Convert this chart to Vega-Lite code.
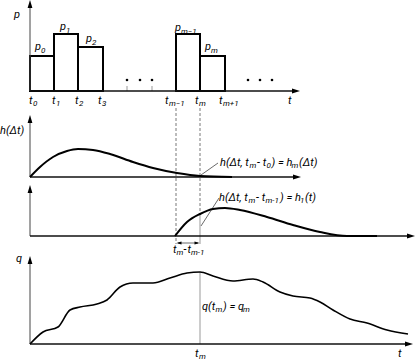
{
 "$schema": "https://vega.github.io/schema/vega-lite/v6.json",
 "width": 416, "height": 362, "padding": 0,
 "autosize": {"type": "fit", "contains": "padding"},
 "background": "white",
 "config": {"view": {"stroke": null}, "text": {"font": "Roboto", "fontStyle": "italic", "color": "black"}},
 "encoding": {
  "x": {"field": "x", "type": "quantitative", "scale": {"domain": [0, 416], "nice": false, "zero": false}, "axis": null},
  "y": {"field": "y", "type": "quantitative", "scale": {"domain": [0, 362], "reverse": true, "nice": false, "zero": false}, "axis": null}
 },
 "layer": [
  {"data": {"values": [{"x":176,"y":108,"x2":176,"y2":244},{"x":200,"y":108,"x2":200,"y2":215}]},
   "mark": {"type": "rule", "color": "#555", "strokeWidth": 0.8, "strokeDash": [3, 2]},
   "encoding": {"x2": {"field": "x2"}, "y2": {"field": "y2"}}},
  {"data": {"values": [{"x":200,"y":215,"x2":200,"y2":244},{"x":200,"y":272,"x2":200,"y2":344},{"x":127,"y":86,"x2":127,"y2":91},{"x":152,"y":86,"x2":152,"y2":91}]},
   "mark": {"type": "rule", "color": "#999", "strokeWidth": 1},
   "encoding": {"x2": {"field": "x2"}, "y2": {"field": "y2"}}},
  {"data": {"values": [{"x":201,"y":175,"x2":218,"y2":163},{"x":201,"y":226,"x2":219,"y2":198},{"x":178,"y":243,"x2":198,"y2":243}]},
   "mark": {"type": "rule", "color": "#444", "strokeWidth": 0.8},
   "encoding": {"x2": {"field": "x2"}, "y2": {"field": "y2"}}},
  {"data": {"values": [{"x":30,"x2":54,"y":56,"y2":91},{"x":54,"x2":78,"y":34,"y2":91},{"x":78,"x2":103,"y":47,"y2":91},{"x":176,"x2":200,"y":34,"y2":91},{"x":200,"x2":225,"y":56,"y2":91}]},
   "mark": {"type": "rect", "fill": "white", "stroke": "black", "strokeWidth": 2},
   "encoding": {"x2": {"field": "x2"}, "y2": {"field": "y2"}}},
  {"data": {"values": [{"x":30,"y":7,"x2":30,"y2":91},{"x":30,"y":122,"x2":30,"y2":177},{"x":30,"y":192,"x2":30,"y2":236},{"x":30,"y":263,"x2":30,"y2":344}]},
   "mark": {"type": "rule", "color": "#444", "strokeWidth": 1},
   "encoding": {"x2": {"field": "x2"}, "y2": {"field": "y2"}}},
  {"data": {"values": [{"x":30,"y":91,"x2":294,"y2":91},{"x":30,"y":177,"x2":295,"y2":177},{"x":30,"y":236,"x2":409,"y2":236},{"x":30,"y":344,"x2":407,"y2":344}]},
   "mark": {"type": "rule", "color": "#111", "strokeWidth": 1.4},
   "encoding": {"x2": {"field": "x2"}, "y2": {"field": "y2"}}},
  {"data": {"values": [
    {"s":"hm","x":30,"y":177},{"s":"hm","x":40,"y":167},{"s":"hm","x":53,"y":157},{"s":"hm","x":67,"y":151},{"s":"hm","x":78,"y":149},{"s":"hm","x":93,"y":150},{"s":"hm","x":110,"y":154},{"s":"hm","x":133,"y":162},{"s":"hm","x":153,"y":168},{"s":"hm","x":177,"y":173},{"s":"hm","x":200,"y":176},{"s":"hm","x":232,"y":177},
    {"s":"h1","x":175,"y":236},{"s":"h1","x":187,"y":222},{"s":"h1","x":200,"y":214},{"s":"h1","x":213,"y":209},{"s":"h1","x":225,"y":208},{"s":"h1","x":240,"y":210},{"s":"h1","x":267,"y":217},{"s":"h1","x":293,"y":225},{"s":"h1","x":320,"y":232},{"s":"h1","x":347,"y":236},{"s":"h1","x":377,"y":236}
   ]},
   "mark": {"type": "line", "color": "black", "strokeWidth": 2, "interpolate": "monotone"},
   "encoding": {"detail": {"field": "s"}}},
  {"data": {"values": [
    {"x":30,"y":344},{"x":43,"y":332},{"x":58,"y":327},{"x":70,"y":310},{"x":80,"y":307},{"x":97,"y":304},{"x":107,"y":300},{"x":120,"y":287},{"x":133,"y":283},{"x":153,"y":283},{"x":170,"y":278},{"x":187,"y":273},{"x":200,"y":272},{"x":213,"y":276},{"x":233,"y":281},{"x":253,"y":279},{"x":263,"y":282},{"x":280,"y":292},{"x":293,"y":296},{"x":310,"y":298},{"x":320,"y":302},{"x":333,"y":310},{"x":350,"y":319},{"x":367,"y":323},{"x":387,"y":330},{"x":408,"y":334}
   ]},
   "mark": {"type": "line", "color": "black", "strokeWidth": 1.6, "interpolate": "monotone"}},
  {"data": {"values": [{"x":127,"y":80},{"x":140,"y":80},{"x":152,"y":80},{"x":248,"y":80},{"x":260,"y":80},{"x":272,"y":80}]},
   "mark": {"type": "point", "filled": true, "color": "black", "size": 7, "opacity": 1}},
  {"data": {"values": [{"x":30,"y":4},{"x":30,"y":119},{"x":30,"y":189},{"x":30,"y":260}]},
   "mark": {"type": "point", "filled": true, "color": "black", "opacity": 1, "size": 64, "shape": "M0,-1L0.6,1L-0.6,1Z"}},
  {"data": {"values": [{"x":296,"y":91},{"x":297,"y":177},{"x":411,"y":236},{"x":409,"y":344}]},
   "mark": {"type": "point", "filled": true, "color": "black", "opacity": 1, "size": 64, "shape": "M1,0L-1,0.6L-1,-0.6Z"}},
  {"data": {"values": [{"x":197,"y":243}]},
   "mark": {"type": "point", "filled": true, "color": "black", "opacity": 1, "size": 25, "shape": "M1,0L-1,0.6L-1,-0.6Z"}},
  {"data": {"values": [{"x":179,"y":243}]},
   "mark": {"type": "point", "filled": true, "color": "black", "opacity": 1, "size": 25, "shape": "M-1,0L1,0.6L1,-0.6Z"}},
  {"data": {"values": [
    {"x":14,"y":18,"label":"p"},
    {"x":35,"y":50,"label":"p"},{"x":60,"y":30,"label":"p"},{"x":86,"y":42,"label":"p"},{"x":175,"y":31,"label":"p"},{"x":205,"y":50,"label":"p"},
    {"x":29,"y":104,"label":"t"},{"x":52,"y":104,"label":"t"},{"x":75,"y":104,"label":"t"},{"x":98,"y":104,"label":"t"},{"x":165,"y":104,"label":"t"},{"x":195,"y":104,"label":"t"},{"x":219,"y":104,"label":"t"},{"x":288,"y":104,"label":"t"},
    {"x":0,"y":134,"label":"h(Δt)"},
    {"x":220,"y":166,"label":"h(Δt, t"},{"x":257,"y":166,"label":" - t"},{"x":271.5,"y":166,"label":") = h"},{"x":299,"y":166,"label":"(Δt)"},
    {"x":219,"y":201,"label":"h(Δt, t"},{"x":256,"y":201,"label":" - t"},{"x":280,"y":201,"label":") = h"},{"x":305,"y":201,"label":"(t)"},
    {"x":173,"y":253,"label":"t"},{"x":183.5,"y":253,"label":"-\u200at"},
    {"x":16,"y":262,"label":"q"},
    {"x":202,"y":310,"label":"q(t"},{"x":223,"y":310,"label":") = q"},
    {"x":195,"y":357,"label":"t"},{"x":398,"y":357,"label":"t"}
   ]},
   "mark": {"type": "text", "align": "left", "baseline": "alphabetic", "fontSize": 11},
   "encoding": {"text": {"field": "label"}}},
  {"data": {"values": [
    {"x":41,"y":53,"label":"0"},{"x":66,"y":33,"label":"1"},{"x":92,"y":45,"label":"2"},{"x":181,"y":34,"label":"m−1"},{"x":211,"y":53,"label":"m"},
    {"x":33,"y":106,"label":"0"},{"x":56,"y":106,"label":"1"},{"x":79,"y":106,"label":"2"},{"x":102,"y":106,"label":"3"},{"x":169,"y":106,"label":"m−1"},{"x":199,"y":106,"label":"m"},{"x":223,"y":106,"label":"m+1"},
    {"x":249.5,"y":168,"label":"m"},{"x":266.5,"y":168,"label":"0"},{"x":291.5,"y":168,"label":"m"},
    {"x":248.5,"y":203,"label":"m"},{"x":265.5,"y":203,"label":"m-1"},{"x":300,"y":203,"label":"1"},
    {"x":176.5,"y":255,"label":"m"},{"x":191,"y":255,"label":"m-1"},
    {"x":215.5,"y":312,"label":"m"},{"x":243,"y":312,"label":"m"},
    {"x":199,"y":359,"label":"m"}
   ]},
   "mark": {"type": "text", "align": "left", "baseline": "alphabetic", "fontSize": 8},
   "encoding": {"text": {"field": "label"}}}
 ]
}
